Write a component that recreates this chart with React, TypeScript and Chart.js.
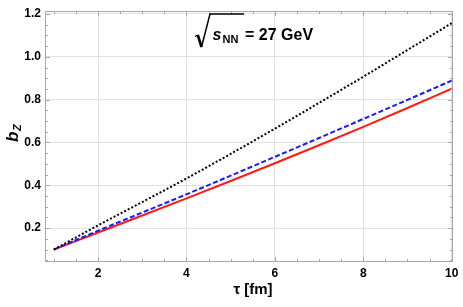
import React, { useEffect, useRef } from "react";
import { Chart, registerables } from "chart.js";

Chart.register(...registerables);

// ---- data ----
const TAU = [1, 2, 3, 4, 5, 6, 7, 8, 9, 10];
const BZ_BLACK_DOTTED = [0.1, 0.213, 0.322, 0.432, 0.547, 0.664, 0.785, 0.907, 1.032, 1.157];
const BZ_BLUE_DASHED = [0.1, 0.188, 0.273, 0.358, 0.445, 0.533, 0.621, 0.71, 0.799, 0.889];
const BZ_RED_SOLID = [0.1, 0.18, 0.259, 0.339, 0.42, 0.503, 0.587, 0.673, 0.761, 0.851];

const X_TICKS = [2, 4, 6, 8, 10];
const X_TICK_LABELS = ["2", "4", "6", "8", "10"];
const X_MINOR = [1, 1.5, 2.5, 3, 3.5, 4.5, 5, 5.5, 6.5, 7, 7.5, 8.5, 9, 9.5];
const Y_TICKS = [0.2, 0.4, 0.6, 0.8, 1.0, 1.2];
const Y_TICK_LABELS = ["0.2", "0.4", "0.6", "0.8", "1.0", "1.2"];
const Y_MINOR = [0.05, 0.1, 0.15, 0.25, 0.3, 0.35, 0.45, 0.5, 0.55, 0.65, 0.7, 0.75, 0.85, 0.9, 0.95, 1.05, 1.1, 1.15];

const FONT = '"Liberation Sans", Arial, Helvetica, sans-serif';

function pts(ys: number[]) {
  return TAU.map((x, i) => ({ x, y: ys[i] }));
}

const framePlugin = {
  id: "frameAndText",
  afterDraw(chart: any) {
    const ctx = chart.ctx as CanvasRenderingContext2D;
    const a = chart.chartArea;
    const xs = chart.scales.x;
    const ys = chart.scales.y;
    ctx.save();
    // frame
    ctx.strokeStyle = "#a8a8a8";
    ctx.lineWidth = 1;
    ctx.strokeRect(Math.round(a.left) + 0.5, Math.round(a.top) + 0.5, Math.round(a.right - a.left) - 1, Math.round(a.bottom - a.top) - 1);
    // ticks inward
    const tick = (v: number, len: number, axis: "x" | "y") => {
      ctx.beginPath();
      if (axis === "x") {
        const p = Math.round(xs.getPixelForValue(v)) + 0.5;
        ctx.moveTo(p, a.bottom);
        ctx.lineTo(p, a.bottom - len);
        ctx.moveTo(p, a.top);
        ctx.lineTo(p, a.top + len);
      } else {
        const p = Math.round(ys.getPixelForValue(v)) + 0.5;
        ctx.moveTo(a.left, p);
        ctx.lineTo(a.left + len, p);
        ctx.moveTo(a.right, p);
        ctx.lineTo(a.right - len, p);
      }
      ctx.stroke();
    };
    X_TICKS.forEach((v) => tick(v, 5, "x"));
    X_MINOR.forEach((v) => tick(v, 3, "x"));
    Y_TICKS.forEach((v) => tick(v, 5, "y"));
    Y_MINOR.forEach((v) => tick(v, 3, "y"));

    ctx.fillStyle = "#000";
    ctx.strokeStyle = "#000";
    // annotation sqrt(s_NN) = 27 GeV
    ctx.lineCap = "butt";
    ctx.lineJoin = "miter";
    ctx.lineWidth = 1.4;
    ctx.beginPath();
    ctx.moveTo(195, 36.5);
    ctx.lineTo(197.8, 35);
    ctx.stroke();
    ctx.lineWidth = 2.6;
    ctx.beginPath();
    ctx.moveTo(197.8, 35);
    ctx.lineTo(201.5, 47);
    ctx.stroke();
    ctx.lineWidth = 1.5;
    ctx.beginPath();
    ctx.moveTo(201.5, 47);
    ctx.lineTo(210, 14);
    ctx.lineTo(244, 14);
    ctx.stroke();
    ctx.textBaseline = "alphabetic";
    ctx.textAlign = "left";
    ctx.font = `italic bold 16px ${FONT}`;
    ctx.fillText("s", 212.5, 40);
    ctx.font = `bold 11px ${FONT}`;
    ctx.fillText("NN", 222.5, 43);
    ctx.font = `bold 16px ${FONT}`;
    ctx.fillText("= 27 GeV", 245, 40);

    // x title
    ctx.font = `bold 15px ${FONT}`;
    ctx.textAlign = "center";
    ctx.fillText("τ [fm]", 253, 294);

    // y title
    ctx.save();
    ctx.translate(18, 142);
    ctx.rotate(-Math.PI / 2);
    ctx.textAlign = "left";
    ctx.font = `italic bold 17px ${FONT}`;
    ctx.fillText("b", 0, 0);
    const bw = ctx.measureText("b").width;
    ctx.font = `italic bold 11px ${FONT}`;
    ctx.fillText("Z", bw + 0.5, 3);
    ctx.restore();

    ctx.restore();
  },
};

export default function App() {
  const ref = useRef<HTMLCanvasElement | null>(null);
  useEffect(() => {
    if (!ref.current) return;
    const chart = new Chart(ref.current, {
      type: "line",
      data: {
        datasets: [
          {
            label: "black",
            data: pts(BZ_BLACK_DOTTED),
            borderColor: "#000000",
            borderWidth: 2,
            borderDash: [2, 2],
            pointRadius: 0,
            cubicInterpolationMode: "monotone",
          },
          {
            label: "blue",
            data: pts(BZ_BLUE_DASHED),
            borderColor: "#1a1aff",
            borderWidth: 2,
            borderDash: [5, 2.5],
            pointRadius: 0,
            cubicInterpolationMode: "monotone",
          },
          {
            label: "red",
            data: pts(BZ_RED_SOLID),
            borderColor: "#ff1a1a",
            borderWidth: 2,
            pointRadius: 0,
            cubicInterpolationMode: "monotone",
          },
        ],
      },
      options: {
        responsive: false,
        animation: false,
        events: [],
        layout: { padding: { left: 0, top: 5, right: 10, bottom: 0 } },
        plugins: { legend: { display: false }, tooltip: { enabled: false }, title: { display: false } },
        scales: {
          x: {
            type: "linear",
            min: 0.8,
            max: 10.03,
            afterBuildTicks: (s: any) => {
              s.ticks = X_TICKS.map((v) => ({ value: v }));
            },
            afterFit: (s: any) => {
              s.height = 45;
            },
            grid: { color: "#e2e2e2", lineWidth: 1, drawTicks: false },
            border: { display: false },
            ticks: {
              padding: 4,
              color: "#000",
              font: { family: FONT, size: 12, weight: "bold" },
              maxRotation: 0,
              autoSkip: false,
              callback: (_v: any, i: number) => X_TICK_LABELS[i],
            },
          },
          y: {
            type: "linear",
            min: 0.042,
            max: 1.213,
            afterBuildTicks: (s: any) => {
              s.ticks = Y_TICKS.map((v) => ({ value: v }));
            },
            afterFit: (s: any) => {
              s.width = 45;
            },
            grid: { color: "#e2e2e2", lineWidth: 1, drawTicks: false },
            border: { display: false },
            ticks: {
              padding: 4,
              color: "#000",
              font: { family: FONT, size: 12, weight: "bold" },
              autoSkip: false,
              callback: (_v: any, i: number) => Y_TICK_LABELS[i],
            },
          },
        },
      } as any,
      plugins: [framePlugin],
    });
    return () => chart.destroy();
  }, []);
  return (
    <div style={{ position: "absolute", left: 0, top: 0, width: 463, height: 307 }}>
      <canvas ref={ref} width={463} height={307} style={{ display: "block", width: 463, height: 307 }} />
    </div>
  );
}
